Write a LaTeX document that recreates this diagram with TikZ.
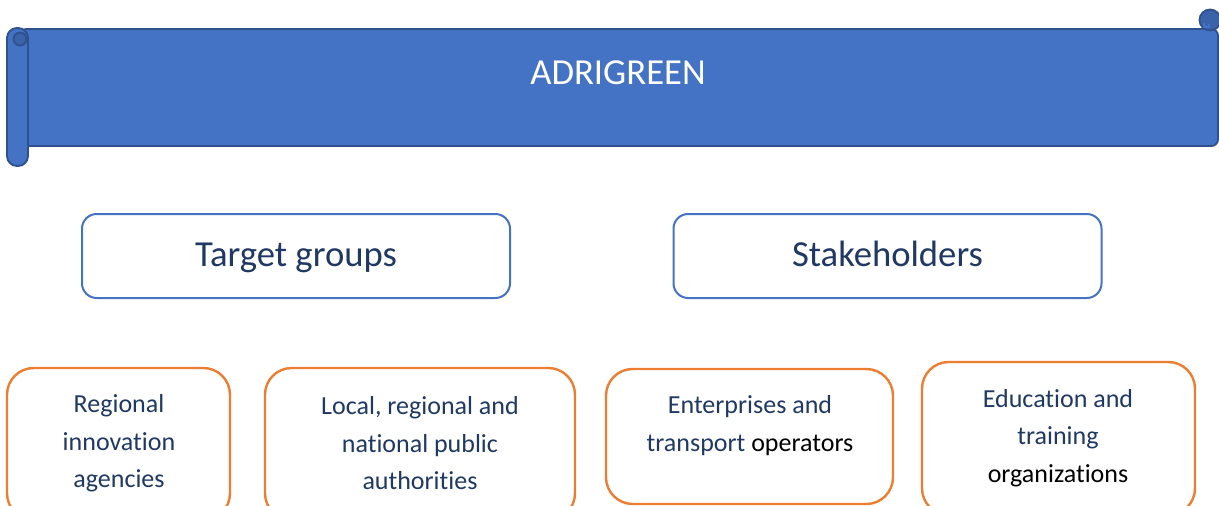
\documentclass[tikz,border=0pt]{standalone}
\usepackage{fontspec}
\setmainfont{Carlito}[Ligatures=NoCommon]
\usetikzlibrary{positioning}
\definecolor{ScrollBlue}{HTML}{4472C4}
\definecolor{ScrollEdge}{HTML}{2F528F}
\definecolor{ScrollCurl}{HTML}{3B63AA}
\definecolor{TextNavy}{HTML}{1F3864}
\definecolor{GroupOrange}{HTML}{ED7D31}

\begin{document}
\begin{tikzpicture}[x=0.75pt, y=-0.75pt,
  scroll/.style={fill=ScrollBlue, draw=ScrollEdge, line width=1.4pt},
  headbox/.style={draw=ScrollBlue, line width=1.5pt, rounded corners=11pt,
    minimum width=321pt, minimum height=63pt, text height=20pt, text depth=5pt,
    font=\fontsize{27.5}{33}\selectfont, text=TextNavy},
  groupbox/.style={draw=GroupOrange, line width=1.8pt, rounded corners=20pt},
  grouptext/.style={align=center, text=TextNavy,
    font=\fontsize{19.5}{28.1}\selectfont}]
  \useasboundingbox (0,0) rectangle (1219,506);

  % Scroll banner
  \draw[scroll, rounded corners=5pt] (20,29) rectangle (1218,146);
  \draw[scroll, rounded corners=7.5pt] (7,28) rectangle (28,166);
  \draw[scroll, fill=ScrollCurl] (20,39) circle (6.5);
  \draw[scroll, fill=ScrollCurl] (1210,20) circle (10.5);
  \draw[ScrollBlue, line width=1.2pt] (1204,23) -- (1204,27) -- (1209,27) -- (1209,24);
  \node[text=white, font=\fontsize{27.5}{33}\selectfont] (title) at (618,73) {ADRIGREEN};

  % Two headings
  \node[headbox] (target) at (296,256) {Target groups};
  \node[headbox] (stake) at (887.5,256) {Stakeholders};

  % Group boxes (running off the bottom edge)
  \node[groupbox, minimum width=167.25pt, minimum height=114pt] (regional) at (118.5,444) {};
  \node[groupbox, minimum width=232.5pt, minimum height=114pt] (local) at (420,444) {};
  \node[groupbox, minimum width=215.25pt, minimum height=101.25pt] (enterprises) at (749.5,436.5) {};
  \node[groupbox, minimum width=204.75pt, minimum height=114.75pt] (education) at (1058.5,438.5) {};

  % Box texts
  \node[grouptext] (regional-txt) at (119,443.5) {Regional\\innovation\\agencies};
  \node[grouptext] (local-txt) at (420,443.5) {Local, regional and\\national public\\authorities};
  \node[grouptext] (enterprises-txt) at (750,425.5)
    {Enterprises and\\transport \textcolor{black}{operators}};
  \node[grouptext] (education-txt) at (1058,438)
    {Education and\\training\\\textcolor{black}{organizations}};
\end{tikzpicture}
\end{document}
